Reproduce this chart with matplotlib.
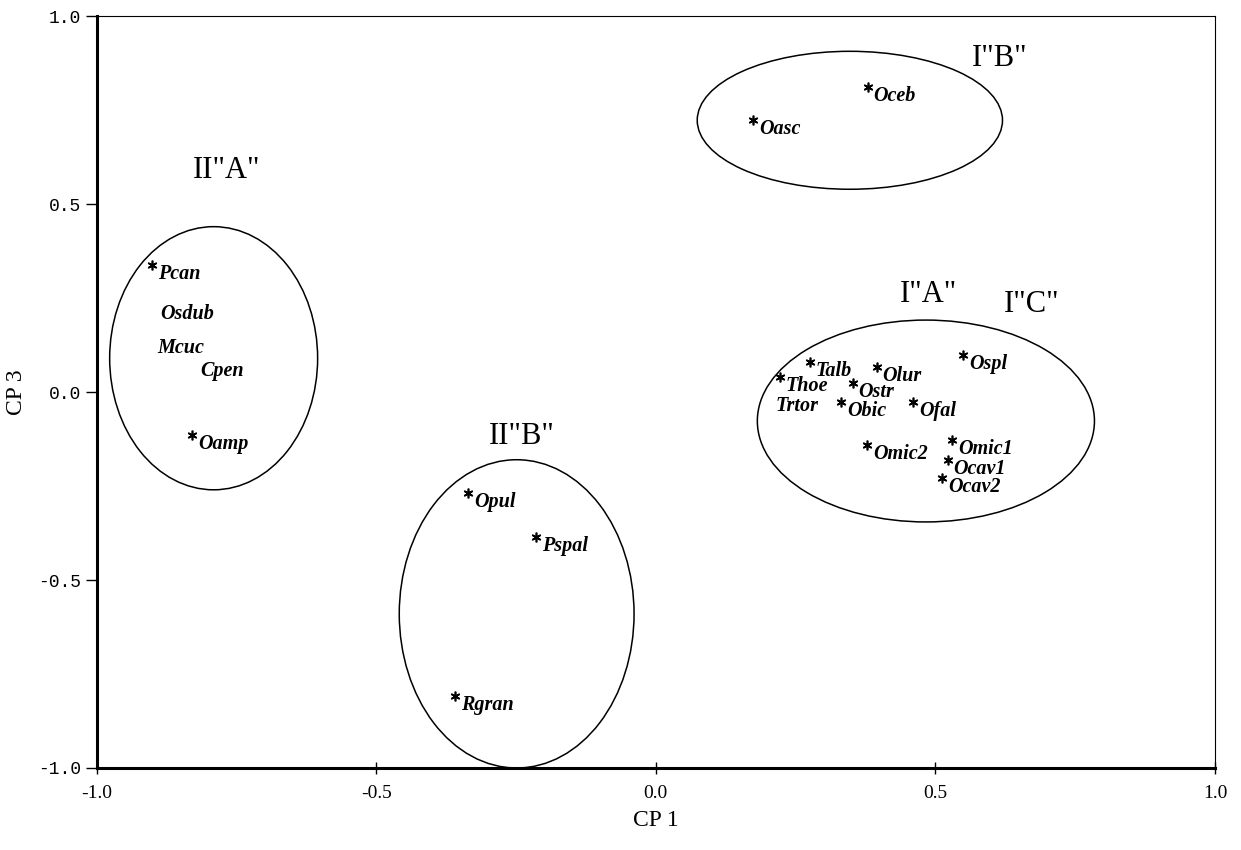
import matplotlib.pyplot as plt
from matplotlib.patches import Ellipse

# species scores on CP 1 / CP 3
names = ['Oceb', 'Oasc', 'Pcan', 'Osdub', 'Mcuc', 'Cpen', 'Oamp',
         'Opul', 'Pspal', 'Rgran',
         'Talb', 'Olur', 'Thoe', 'Ostr', 'Trtor', 'Obic', 'Ofal', 'Ospl',
         'Omic2', 'Omic1', 'Ocav1', 'Ocav2']
cp1 = [0.379, 0.174, -0.902, -0.898, -0.903, -0.826, -0.830,
       -0.336, -0.215, -0.360,
       0.275, 0.395, 0.222, 0.352, 0.204, 0.332, 0.460, 0.550,
       0.378, 0.530, 0.522, 0.512]
cp3 = [0.811, 0.723, 0.338, 0.231, 0.141, 0.080, -0.114,
       -0.269, -0.386, -0.809,
       0.080, 0.066, 0.040, 0.024, -0.012, -0.027, -0.027, 0.098,
       -0.141, -0.128, -0.181, -0.229]
has_star = [True, True, True, False, False, False, True,
            True, True, True,
            True, True, True, True, False, True, True, True,
            True, True, True, True]

# groups: ellipse centre, width, height
group_cx = [0.347, -0.791, -0.249, 0.483]
group_cy = [0.723, 0.090, -0.590, -0.077]
group_w = [0.546, 0.372, 0.420, 0.603]
group_h = [0.367, 0.700, 0.820, 0.537]

group_labels = ['I"B"', 'II"A"', 'II"B"', 'I"A"', 'I"C"']
label_x = [0.615, -0.767, -0.240, 0.487, 0.673]
label_y = [0.888, 0.590, -0.117, 0.260, 0.234]

fig = plt.figure(figsize=(12.41, 8.5), dpi=100)
ax = fig.add_axes([0.078, 0.0965, 0.901, 0.8845])

for cx, cy, w, h in zip(group_cx, group_cy, group_w, group_h):
    ax.add_patch(Ellipse((cx, cy), w, h, fill=False, edgecolor='black', lw=1.1))

sx = [x for x, s in zip(cp1, has_star) if s]
sy = [y for y, s in zip(cp3, has_star) if s]
ax.plot(sx, sy, linestyle='none', marker=(6, 2, 0), markersize=7,
        color='black', markeredgewidth=1.2)

for n, x, y in zip(names, cp1, cp3):
    ax.annotate(n, (x, y), xytext=(6, -9), textcoords='offset pixels',
                ha='left', va='center', fontsize=14.5, family='Liberation Serif',
                style='italic', weight='bold')

for t, x, y in zip(group_labels, label_x, label_y):
    ax.text(x, y, t, ha='center', va='center', fontsize=22,
            family='Liberation Serif')

ax.set_xlim(-1, 1)
ax.set_ylim(-1, 1)
ax.set_xticks([-1.0, -0.5, 0.0, 0.5, 1.0])
ax.set_yticks([-1.0, -0.5, 0.0, 0.5, 1.0])
ax.set_xticklabels(['-1.0', '-0.5', '0.0', '0.5', '1.0'],
                   family='Liberation Serif', fontsize=14)
ax.set_yticklabels(['-1.0', '-0.5', '0.0', '0.5', '1.0'],
                   family='Liberation Mono', fontsize=13)
ax.tick_params(axis='y', direction='out', length=8, width=1)
ax.tick_params(axis='x', direction='inout', length=8, width=1, pad=8)
ax.spines['left'].set_linewidth(2.2)
ax.spines['bottom'].set_linewidth(2.2)
ax.spines['top'].set_linewidth(0.8)
ax.spines['right'].set_linewidth(0.8)
ax.set_xlabel('CP 1', family='Liberation Serif', fontsize=17, labelpad=6)
ax.set_ylabel('CP 3', family='Liberation Serif', fontsize=17, labelpad=8)

plt.savefig('out.png', dpi=100)
